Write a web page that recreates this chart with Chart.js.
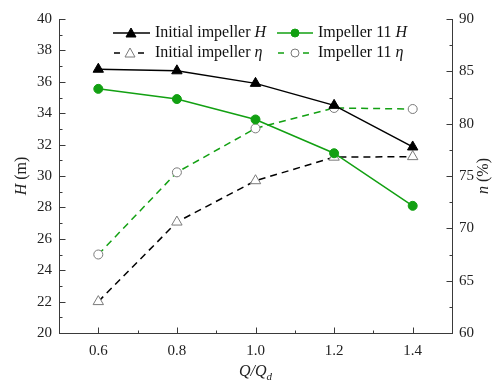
<!DOCTYPE html>
<html>
<head>
<meta charset="utf-8">
<script src="https://cdn.jsdelivr.net/npm/chart.js@4/dist/chart.umd.min.js"></script>
<style>
  html, body { margin: 0; padding: 0; background: #fff; }
  #wrap { width: 492px; height: 383px; }
</style>
</head>
<body>
<div id="wrap"><canvas id="chart" width="492" height="383"></canvas></div>
<script>
// data
const qRatio = [0.6, 0.8, 1.0, 1.2, 1.4];
const headInitial = [36.8, 36.7, 35.9, 34.5, 31.85];
const headImp11 = [35.55, 34.9, 33.6, 31.45, 28.1];
const effInitial = [63.0, 70.6, 74.55, 76.8, 76.85];
const effImp11 = [67.5, 75.35, 79.55, 81.5, 81.4];

const xTicks = [0.6, 0.8, 1.0, 1.2, 1.4];
const hTicks = [20, 22, 24, 26, 28, 30, 32, 34, 36, 38, 40];
const effTicks = [60, 65, 70, 75, 80, 85, 90];

const GREEN = '#12a012';
const GREY = '#7a7a7a';
const AXIS = '#3a3a3a';
const FONT = '"Liberation Serif", "Times New Roman", serif';

const toPts = (ys) => ys.map((y, i) => ({ x: qRatio[i], y: y }));

// inward ticks, axis titles and legend drawn by hand
const decor = {
  id: 'decor',
  afterDraw(chart) {
    const ctx = chart.ctx;
    const { x, y, y1 } = chart.scales;
    const area = chart.chartArea;
    ctx.save();
    ctx.strokeStyle = AXIS;
    ctx.lineWidth = 1;

    const tick = (x0, y0, x1, y1p) => {
      ctx.beginPath();
      ctx.moveTo(Math.round(x0) + 0.5, Math.round(y0) + 0.5);
      ctx.lineTo(Math.round(x1) + 0.5, Math.round(y1p) + 0.5);
      ctx.stroke();
    };
    // x axis
    for (let v = 0.6; v <= 1.41; v += 0.2) {
      const px = x.getPixelForValue(v);
      tick(px, area.bottom, px, area.bottom - 6);
    }
    for (let v = 0.7; v <= 1.31; v += 0.2) {
      const px = x.getPixelForValue(v);
      tick(px, area.bottom, px, area.bottom - 3);
    }
    // left axis
    hTicks.forEach(v => {
      const py = y.getPixelForValue(v);
      tick(area.left, py, area.left + 6, py);
      if (v < 40) {
        const pm = y.getPixelForValue(v + 1);
        tick(area.left, pm, area.left + 3, pm);
      }
    });
    // right axis
    effTicks.forEach(v => {
      const py = y1.getPixelForValue(v);
      tick(area.right, py, area.right - 6, py);
      if (v < 90) {
        const pm = y1.getPixelForValue(v + 2.5);
        tick(area.right, pm, area.right - 3, pm);
      }
    });

    // axis titles
    ctx.fillStyle = '#222';
    ctx.textBaseline = 'middle';
    const midY = (area.top + area.bottom) / 2;

    ctx.save();
    ctx.translate(22, midY);
    ctx.rotate(-Math.PI / 2);
    drawMixed(ctx, [['H', true], [' (m)', false]], 0, 0, 16, 'center');
    ctx.restore();

    ctx.save();
    ctx.translate(484, midY);
    ctx.rotate(-Math.PI / 2);
    drawMixed(ctx, [['n', true], [' (%)', false]], 0, 0, 16, 'center');
    ctx.restore();

    // Q/Qd
    ctx.font = 'italic 16px ' + FONT;
    const w1 = ctx.measureText('Q/Q').width;
    ctx.font = 'italic 11px ' + FONT;
    const w2 = ctx.measureText('d').width;
    const cx = (area.left + area.right) / 2;
    let sx = cx - (w1 + w2) / 2;
    ctx.textAlign = 'left';
    ctx.font = 'italic 16px ' + FONT;
    ctx.fillText('Q/Q', sx, 372);
    ctx.font = 'italic 11px ' + FONT;
    ctx.fillText('d', sx + w1, 377);

    // legend
    const legendRows = [
      { x0: 113, x1: 150, mx: 131, tx: 155, y: 33, color: '#000', dashed: false, marker: 'tri', fill: '#000', stroke: '#000', label: 'Initial impeller ' },
      { x0: 277, x1: 313, mx: 295, tx: 318, y: 33, color: GREEN, dashed: false, marker: 'circ', fill: GREEN, stroke: GREEN, label: 'Impeller 11 ' },
      { x0: 114, x1: 150, mx: 130, tx: 155, y: 53, color: '#000', dashed: true, marker: 'tri', fill: '#fff', stroke: GREY, label: 'Initial impeller ' },
      { x0: 278, x1: 313, mx: 295, tx: 318, y: 53, color: GREEN, dashed: true, marker: 'circ', fill: '#fff', stroke: GREY, label: 'Impeller 11 ' }
    ];
    legendRows.forEach((r, i) => {
      ctx.save();
      ctx.strokeStyle = r.color;
      ctx.lineWidth = 1.5;
      ctx.beginPath();
      if (r.dashed) {
        ctx.moveTo(r.x0, r.y); ctx.lineTo(r.x0 + 6, r.y);
        ctx.moveTo(r.mx + 8, r.y); ctx.lineTo(r.mx + 14, r.y);
      } else {
        ctx.moveTo(r.x0, r.y); ctx.lineTo(r.x1, r.y);
      }
      ctx.stroke();
      ctx.fillStyle = r.fill;
      ctx.strokeStyle = r.stroke;
      ctx.lineWidth = 1;
      ctx.beginPath();
      if (r.marker === 'tri') {
        ctx.moveTo(r.mx, r.y - 5);
        ctx.lineTo(r.mx + 5, r.y + 4);
        ctx.lineTo(r.mx - 5, r.y + 4);
        ctx.closePath();
      } else {
        ctx.arc(r.mx, r.y, 4, 0, Math.PI * 2);
      }
      ctx.fill();
      ctx.stroke();
      ctx.restore();
      ctx.fillStyle = '#111';
      drawMixed(ctx, [[r.label, false], [i < 2 ? 'H' : 'η', true]], r.tx, r.y, 16, 'left');
    });
    ctx.restore();
  }
};

function drawMixed(ctx, parts, x0, y0, size, align) {
  let total = 0;
  parts.forEach(p => {
    ctx.font = (p[1] ? 'italic ' : '') + size + 'px ' + FONT;
    total += ctx.measureText(p[0]).width;
  });
  let cx = align === 'center' ? x0 - total / 2 : x0;
  ctx.textAlign = 'left';
  ctx.textBaseline = 'middle';
  parts.forEach(p => {
    ctx.font = (p[1] ? 'italic ' : '') + size + 'px ' + FONT;
    ctx.fillText(p[0], cx, y0);
    cx += ctx.measureText(p[0]).width;
  });
}

new Chart(document.getElementById('chart'), {
  type: 'line',
  data: {
    datasets: [
      {
        label: 'Initial impeller H',
        data: toPts(headInitial),
        yAxisID: 'y',
        borderColor: '#000',
        backgroundColor: '#000',
        borderWidth: 1.5,
        pointStyle: 'triangle',
        pointRadius: 6,
        pointBorderWidth: 1
      },
      {
        label: 'Impeller 11 H',
        data: toPts(headImp11),
        yAxisID: 'y',
        borderColor: GREEN,
        backgroundColor: GREEN,
        borderWidth: 1.5,
        pointStyle: 'circle',
        pointRadius: 4.5,
        pointBorderWidth: 1
      },
      {
        label: 'Initial impeller η',
        data: toPts(effInitial),
        yAxisID: 'y1',
        borderColor: '#000',
        borderDash: [7, 5],
        borderWidth: 1.5,
        pointStyle: 'triangle',
        pointRadius: 6,
        pointBackgroundColor: '#fff',
        pointBorderColor: GREY,
        pointBorderWidth: 1
      },
      {
        label: 'Impeller 11 η',
        data: toPts(effImp11),
        yAxisID: 'y1',
        borderColor: GREEN,
        borderDash: [7, 5],
        borderWidth: 1.5,
        pointStyle: 'circle',
        pointRadius: 4.5,
        pointBackgroundColor: '#fff',
        pointBorderColor: GREY,
        pointBorderWidth: 1
      }
    ]
  },
  options: {
    responsive: false,
    animation: false,
    devicePixelRatio: 1,
    layout: { padding: { top: 19, left: 0, right: 0, bottom: 0 } },
    plugins: {
      legend: { display: false },
      tooltip: { enabled: false }
    },
    scales: {
      x: {
        type: 'linear',
        min: 0.5,
        max: 1.5,
        afterBuildTicks: s => { s.ticks = xTicks.map(v => ({ value: v })); },
        afterFit: s => { s.height = 50; },
        grid: { display: false, drawTicks: false },
        border: { display: true, color: AXIS, width: 1 },
        ticks: {
          padding: 9,
          color: '#222',
          font: { family: FONT, size: 15 },
          callback: v => v.toFixed(1)
        }
      },
      y: {
        position: 'left',
        min: 20,
        max: 40,
        afterBuildTicks: s => { s.ticks = hTicks.map(v => ({ value: v })); },
        afterFit: s => { s.width = 59; },
        grid: { display: false, drawTicks: false },
        border: { display: true, color: AXIS, width: 1 },
        ticks: {
          padding: 7,
          color: '#222',
          font: { family: FONT, size: 15 }
        }
      },
      y1: {
        position: 'right',
        min: 60,
        max: 90,
        afterBuildTicks: s => { s.ticks = effTicks.map(v => ({ value: v })); },
        afterFit: s => { s.width = 40; },
        grid: { display: false, drawTicks: false },
        border: { display: true, color: AXIS, width: 1 },
        ticks: {
          padding: 7,
          color: '#222',
          font: { family: FONT, size: 15 }
        }
      }
    }
  },
  plugins: [decor]
});
</script>
</body>
</html>
